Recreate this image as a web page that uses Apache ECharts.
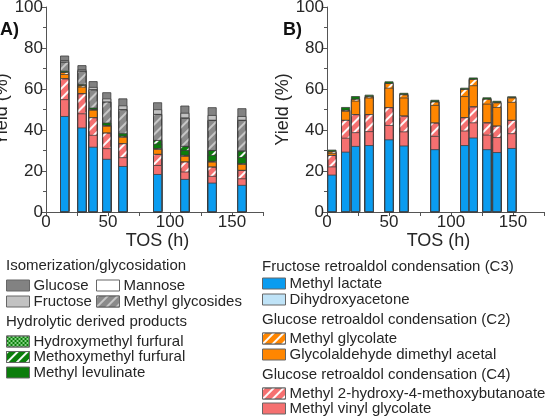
<!DOCTYPE html>
<html><head><meta charset="utf-8">
<script src="https://cdn.jsdelivr.net/npm/echarts@6/dist/echarts.min.js"></script>
<style>html,body{margin:0;padding:0;background:#fff}#c{width:547px;height:416px}</style>
</head><body><div id="c"></div>
<script>
// ---- Data (yields in %, per product; segments of each stacked bar) ----
const timesA = [15, 29, 38, 49, 62, 90, 112, 134, 158];
const timesB = [4, 15, 23, 34, 50, 62, 87, 111, 118, 129, 137, 149];
const xTicks = [0, 50, 100, 150];
const yTicks = [0, 20, 40, 60, 80, 100];

// Panel A
const lactateA  = [46.8, 41.2, 31.8, 25.9, 22.4, 18.5, 16.1, 14.3, 13.2];
const dhaA      = [0, 0, 0, 0, 0, 0, 0, 0, 0];
const mvgA      = [8.2, 6.9, 5.8, 5.2, 4.3, 4.4, 3.6, 3.3, 3.2];
const mhmbA     = [10.2, 9.8, 8.6, 7.6, 6.8, 5.4, 4.9, 4.5, 4.1];
const gdaA      = [2.1, 3.2, 3.6, 3.3, 3.1, 2.4, 2.7, 2.4, 2.9];
const mgA       = [1.0, 0.7, 0.4, 0.4, 0.5, 0.4, 0.5, 0.4, 0.3];
const mlevA     = [0.6, 0.5, 0.7, 1.2, 1.3, 2.2, 2.4, 2.9, 3.1];
const mmfA      = [0, 0, 0, 0, 0, 1.8, 2.0, 2.4, 3.1];
const hmfA      = [0, 0, 0, 0, 0, 0, 0, 0, 0];
const glycA     = [4.4, 6.6, 8.9, 10.2, 11.7, 12.7, 13.8, 14.7, 15.0];
const mannoseA  = [0, 0, 0, 0, 0, 0, 0, 0, 0];
const fructoseA = [0.8, 0.7, 1.2, 1.6, 1.9, 2.3, 2.4, 2.4, 1.9];
const glucoseA  = [2.2, 2.0, 2.8, 3.0, 3.4, 3.4, 3.5, 3.8, 3.8];

// Panel B
const lactateB  = [18.2, 29.4, 32.2, 32.6, 35.4, 32.4, 30.6, 32.6, 36.3, 30.6, 29.2, 31.2];
const dhaB      = [0, 0, 0, 0, 0, 0, 0, 0, 0, 0, 0, 0];
const mvgB      = [4.0, 6.8, 6.7, 6.8, 7.0, 6.9, 6.5, 7.1, 7.4, 7.1, 7.3, 7.2];
const mhmbB     = [5.6, 8.7, 8.8, 8.3, 8.7, 7.7, 6.5, 6.5, 7.8, 6.0, 5.6, 6.5];
const gdaB      = [1.0, 4.4, 6.6, 8.1, 9.5, 8.8, 8.6, 10.3, 10.3, 9.1, 9.1, 8.8];
const mgB       = [0.8, 0.5, 0.9, 0.6, 2.3, 1.6, 1.7, 3.5, 3.1, 2.4, 2.3, 2.2];
const mlevB     = [0.8, 1.4, 1.3, 0.8, 0.8, 0.7, 0.8, 0.6, 0.7, 0.7, 0.7, 0.5];
const mmfB      = [0, 0, 0, 0, 0, 0, 0, 0, 0, 0, 0, 0];
const hmfB      = [0, 0, 0, 0, 0, 0, 0, 0, 0, 0, 0, 0];
const glycB     = [0, 0, 0, 0, 0, 0, 0, 0, 0, 0, 0, 0];
const mannoseB  = [0, 0, 0, 0, 0, 0, 0, 0, 0, 0, 0, 0];
const fructoseB = [0, 0, 0, 0, 0, 0, 0, 0, 0, 0, 0, 0];
const glucoseB  = [0, 0, 0, 0, 0, 0, 0, 0, 0, 0, 0, 0];

// ---- Styles ----
const FONT = '"Liberation Sans", Arial, sans-serif';
const TXT = '#262626';
const stripe = (c) => ({symbol: 'rect', symbolSize: 1, color: c, dashArrayX: [1, 0], dashArrayY: [1.8, 4.5], rotation: -Math.PI / 4});
const dots = {symbol: 'rect', symbolSize: 1, color: 'rgba(140,215,140,0.95)',
  dashArrayX: [[1.5, 1.5], [0, 1.5, 1.5, 0]], dashArrayY: [1.5, 0], rotation: 0};

// bottom-to-top stacking order
const defs = [
  {name: 'Methyl lactate', color: '#0a9cf0', a: lactateA, b: lactateB},
  {name: 'Dihydroxyacetone', color: '#bfe3f7', a: dhaA, b: dhaB},
  {name: 'Methyl vinyl glycolate', color: '#f57070', a: mvgA, b: mvgB},
  {name: 'Methyl 2-hydroxy-4-methoxybutanoate', color: '#f57070', decal: stripe('rgba(255,255,255,0.95)'), a: mhmbA, b: mhmbB},
  {name: 'Glycolaldehyde dimethyl acetal', color: '#ff8600', a: gdaA, b: gdaB},
  {name: 'Methyl glycolate', color: '#ff8600', decal: stripe('rgba(255,255,255,0.95)'), a: mgA, b: mgB},
  {name: 'Methyl levulinate', color: '#0b7d0b', a: mlevA, b: mlevB},
  {name: 'Methoxymethyl furfural', color: '#0b7d0b', decal: stripe('rgba(255,255,255,0.95)'), a: mmfA, b: mmfB},
  {name: 'Hydroxymethyl furfural', color: '#0b7d0b', decal: dots, a: hmfA, b: hmfB},
  {name: 'Methyl glycosides', color: '#8a8a8a', decal: stripe('rgba(205,205,205,0.9)'), a: glycA, b: glycB},
  {name: 'Mannose', color: '#ffffff', a: mannoseA, b: mannoseB},
  {name: 'Fructose', color: '#c2c2c2', a: fructoseA, b: fructoseB},
  {name: 'Glucose', color: '#828282', a: glucoseA, b: glucoseB}
];

// Stacked bars drawn as overlapping bars (0 -> cumulative top), topmost product first,
// so each lower product paints over the part of the bars above it.
const series = [];
[['a', timesA, 0], ['b', timesB, 1]].forEach(([k, t, gi]) => {
  const cum = t.map(() => 0);
  const tops = defs.map(d => {
    const seg = d[k];
    const top = seg.map((v, i) => (cum[i] += v));
    return {d, top, seg};
  });
  tops.slice().reverse().forEach(({d, top, seg}) => {
    series.push({
      type: 'bar', name: d.name, xAxisIndex: gi, yAxisIndex: gi,
      barWidth: 9, barGap: '-100%',
      itemStyle: {color: d.color, borderColor: '#3c3c3c', borderWidth: 0.8, decal: d.decal || null},
      emphasis: {disabled: true},
      data: t.map((x, i) => [x, seg[i] === 0 ? null : +top[i].toFixed(2)])
    });
  });
});

function xAxis(gi) {
  return {
    type: 'value', gridIndex: gi, min: 0, max: 175, interval: 25,
    axisLine: {show: true, lineStyle: {color: '#555', width: 1}},
    axisTick: {show: true, length: 4, lineStyle: {color: '#555'}},
    splitLine: {show: false},
    axisLabel: {fontFamily: FONT, fontSize: 17, color: TXT, margin: 2,
      formatter: v => xTicks.includes(v) ? String(v) : ''},
    name: 'TOS (h)', nameLocation: 'middle', nameGap: 19,
    nameTextStyle: {fontFamily: FONT, fontSize: 18, color: TXT, padding: [0, 0, 0, 6]}
  };
}
function yAxis(gi) {
  return {
    type: 'value', gridIndex: gi, min: 0, max: 100, interval: 20,
    axisLine: {show: true, lineStyle: {color: '#555', width: 1}},
    axisTick: {show: true, length: 5, lineStyle: {color: '#555'}},
    minorTick: {show: true, splitNumber: 2, length: 3, lineStyle: {color: '#555'}},
    splitLine: {show: false},
    axisLabel: {fontFamily: FONT, fontSize: 17, color: TXT, margin: 3,
      formatter: v => yTicks.includes(v) ? String(v) : ''},
    name: 'Yield (%)', nameLocation: 'middle', nameGap: 29,
    nameTextStyle: {fontFamily: FONT, fontSize: 18, color: TXT}
  };
}

function legend(names, left, top, gap) {
  return {
    data: names, orient: 'vertical', left: left, top: top, itemGap: gap,
    itemWidth: 23, itemHeight: 11, icon: 'rect', selectedMode: false,
    padding: 0,
    itemStyle: {borderColor: '#666', borderWidth: 1},
    textStyle: {fontFamily: FONT, fontSize: 15, color: TXT, lineHeight: 14, padding: [0, 0, 0, -1]}
  };
}

const title = (text, x, y) => ({type: 'text', left: x, top: y,
  style: {text: text, font: '15px ' + FONT, fill: TXT}});

const chart = echarts.init(document.getElementById('c'), null, {renderer: 'canvas'});
chart.setOption({
  animation: false,
  grid: [
    {left: 46, top: 7, width: 217, height: 205, outerBoundsMode: 'none', containLabel: false},
    {left: 327, top: 7, width: 217, height: 205, outerBoundsMode: 'none', containLabel: false}
  ],
  xAxis: [xAxis(0), xAxis(1)],
  yAxis: [yAxis(0), yAxis(1)],
  legend: [
    legend(['Glucose', 'Fructose'], 6, 278, 1),
    legend(['Mannose', 'Methyl glycosides'], 96, 278, 1),
    legend(['Hydroxymethyl furfural', 'Methoxymethyl furfural', 'Methyl levulinate'], 6, 334, 0.5),
    legend(['Methyl lactate', 'Dihydroxyacetone'], 262, 276, 1),
    legend(['Methyl glycolate', 'Glycolaldehyde dimethyl acetal'], 262, 331, 1),
    legend(['Methyl 2-hydroxy-4-methoxybutanoate', 'Methyl vinyl glycolate'], 262, 386, 0)
  ],
  graphic: [
    {type: 'text', left: 0, top: 21, style: {text: 'A)', font: 'bold 18px ' + FONT, fill: '#111'}},
    {type: 'text', left: 283, top: 21, style: {text: 'B)', font: 'bold 18px ' + FONT, fill: '#111'}},
    title('Isomerization/glycosidation', 6, 258),
    title('Hydrolytic derived products', 6, 314),
    title('Fructose retroaldol condensation (C3)', 262, 259),
    title('Glucose retroaldol condensation (C2)', 262, 312),
    title('Glucose retroaldol condensation (C4)', 262, 367)
  ],
  series: series
});
</script></body></html>
